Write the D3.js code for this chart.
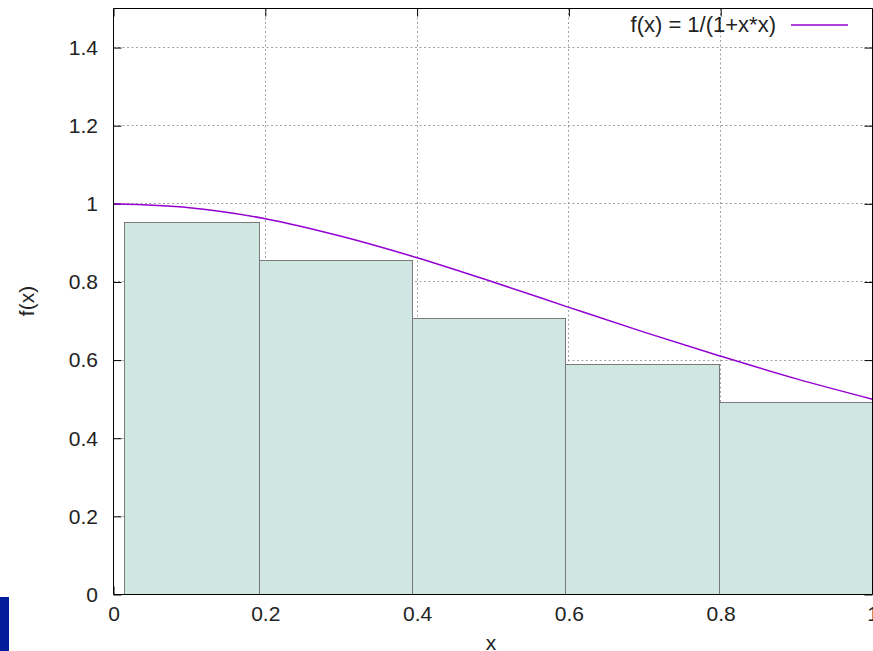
<!DOCTYPE html>
<html>
<head>
<meta charset="utf-8">
<script src="https://cdn.jsdelivr.net/npm/d3@7"></script>
<style>
  body { margin: 0; background: #fff; }
  text { font-family: "Liberation Sans", Arial, sans-serif; fill: #222; }
</style>
</head>
<body>
<div id="chart"></div>
<script>
// bins of the step approximation (edges on x, height per bin)
const binEdges = [0.014, 0.192, 0.394, 0.596, 0.798, 1.0];
const binHeights = [0.952, 0.854, 0.706, 0.590, 0.492];

// f(x) = 1/(1+x*x)
const curveX = [0, 0.1, 0.2, 0.3, 0.4, 0.5, 0.6, 0.7, 0.8, 0.9, 1.0];
const curveY = [1, 0.990, 0.962, 0.917, 0.862, 0.800, 0.735, 0.671, 0.610, 0.552, 0.500];

const xTicks = [0, 0.2, 0.4, 0.6, 0.8, 1];
const xTickLabels = ["0", "0.2", "0.4", "0.6", "0.8", "1"];
const yTicks = [0, 0.2, 0.4, 0.6, 0.8, 1, 1.2, 1.4];
const yTickLabels = ["0", "0.2", "0.4", "0.6", "0.8", "1", "1.2", "1.4"];

const legendLabel = "f(x) = 1/(1+x*x)";

const chartWidth = 873;
const chartHeight = 651;
const plotLeft = 113.5, plotRight = 872.5, plotTop = 8.5, plotBottom = 594.5;

const svg = d3.select("#chart")
    .append("svg")
    .attr("width", chartWidth)
    .attr("height", chartHeight);

svg.append("rect")
    .attr("width", chartWidth)
    .attr("height", chartHeight)
    .attr("fill", "#fff");

const x = d3.scaleLinear().domain([0, 1]).range([plotLeft, plotRight]);
const y = d3.scaleLinear().domain([0, 1.5]).range([plotBottom, plotTop]);

const crisp = v => Math.round(v - 0.5) + 0.5;

/*********************************************/
/*              grid                         */
/*********************************************/
const grid = svg.append("g")
    .attr("stroke", "#a0a0a0")
    .attr("stroke-width", 1)
    .attr("stroke-dasharray", "2,2.5");

grid.selectAll("line.gx")
    .data(xTicks.filter(d => d > 0 && d < 1))
    .join("line")
    .attr("class", "gx")
    .attr("x1", d => crisp(x(d)))
    .attr("x2", d => crisp(x(d)))
    .attr("y1", plotTop)
    .attr("y2", plotBottom);

grid.selectAll("line.gy")
    .data(yTicks.filter(d => d > 0))
    .join("line")
    .attr("class", "gy")
    .attr("x1", plotLeft)
    .attr("x2", plotRight)
    .attr("y1", d => crisp(y(d)))
    .attr("y2", d => crisp(y(d)));

/*********************************************/
/*              ticks (inward, mirrored)     */
/*********************************************/
const tickLen = 8;

svg.append("g")
    .attr("transform", `translate(0, ${plotBottom})`)
    .call(d3.axisBottom(x).tickValues(xTicks).tickSize(-tickLen).tickSizeOuter(0).tickFormat(""))
    .call(g => g.select(".domain").remove());

svg.append("g")
    .attr("transform", `translate(0, ${plotTop})`)
    .call(d3.axisTop(x).tickValues(xTicks).tickSize(-tickLen).tickSizeOuter(0).tickFormat(""))
    .call(g => g.select(".domain").remove());

svg.append("g")
    .attr("transform", `translate(${plotLeft}, 0)`)
    .call(d3.axisLeft(y).tickValues(yTicks).tickSize(-tickLen).tickSizeOuter(0).tickFormat(""))
    .call(g => g.select(".domain").remove());

svg.append("g")
    .attr("transform", `translate(${plotRight}, 0)`)
    .call(d3.axisRight(y).tickValues(yTicks).tickSize(-tickLen).tickSizeOuter(0).tickFormat(""))
    .call(g => g.select(".domain").remove());

/*********************************************/
/*              bars                         */
/*********************************************/
const bins = binHeights.map((h, i) => ({ x0: binEdges[i], x1: binEdges[i + 1], h }));

svg.append("g")
    .selectAll("rect")
    .data(bins)
    .join("rect")
    .attr("x", d => crisp(x(d.x0)))
    .attr("width", d => crisp(x(d.x1)) - crisp(x(d.x0)))
    .attr("y", d => crisp(y(d.h)))
    .attr("height", d => crisp(y(0)) - crisp(y(d.h)))
    .attr("fill", "#d0e6e3")
    .attr("stroke", "#7a7a7a")
    .attr("stroke-width", 1);

/*********************************************/
/*              curve                        */
/*********************************************/
const curvePoints = curveX.map((v, i) => [v, curveY[i]]);

const line = d3.line()
    .x(d => x(d[0]))
    .y(d => y(d[1]))
    .curve(d3.curveCatmullRom);

svg.append("path")
    .attr("d", line(curvePoints))
    .attr("fill", "none")
    .attr("stroke", "#9400d3")
    .attr("stroke-width", 1.5);

/*********************************************/
/*              border                       */
/*********************************************/
svg.append("path")
    .attr("d", `M${plotLeft},${plotTop}H${plotRight}V${plotBottom}H${plotLeft}Z`)
    .attr("fill", "none")
    .attr("stroke", "#000")
    .attr("stroke-width", 1);

/*********************************************/
/*              labels                       */
/*********************************************/
const fontSize = 21;

svg.append("g")
    .selectAll("text")
    .data(xTicks)
    .join("text")
    .attr("x", d => x(d) + 0.5)
    .attr("y", 621)
    .attr("text-anchor", "middle")
    .style("font-size", fontSize + "px")
    .text((d, i) => xTickLabels[i]);

svg.append("g")
    .selectAll("text")
    .data(yTicks)
    .join("text")
    .attr("x", 98)
    .attr("y", d => y(d))
    .attr("dy", "0.35em")
    .attr("text-anchor", "end")
    .style("font-size", fontSize + "px")
    .text((d, i) => yTickLabels[i]);

svg.append("text")
    .attr("x", 491)
    .attr("y", 650)
    .attr("text-anchor", "middle")
    .style("font-size", fontSize + "px")
    .text("x");

svg.append("text")
    .attr("transform", "translate(34, 301) rotate(-90)")
    .attr("text-anchor", "middle")
    .style("font-size", fontSize + "px")
    .text("f(x)");

// legend
svg.append("text")
    .attr("x", 776)
    .attr("y", 24)
    .attr("dy", "0.35em")
    .attr("text-anchor", "end")
    .style("font-size", "22px")
    .text(legendLabel);

svg.append("line")
    .attr("x1", 791)
    .attr("x2", 848)
    .attr("y1", 25)
    .attr("y2", 25)
    .attr("stroke", "#9400d3")
    .attr("stroke-width", 1.5);

// blue strip at the lower left corner
svg.append("rect")
    .attr("x", 0)
    .attr("y", 597)
    .attr("width", 9)
    .attr("height", chartHeight - 597)
    .attr("fill", "#031c9c");
</script>
</body>
</html>
